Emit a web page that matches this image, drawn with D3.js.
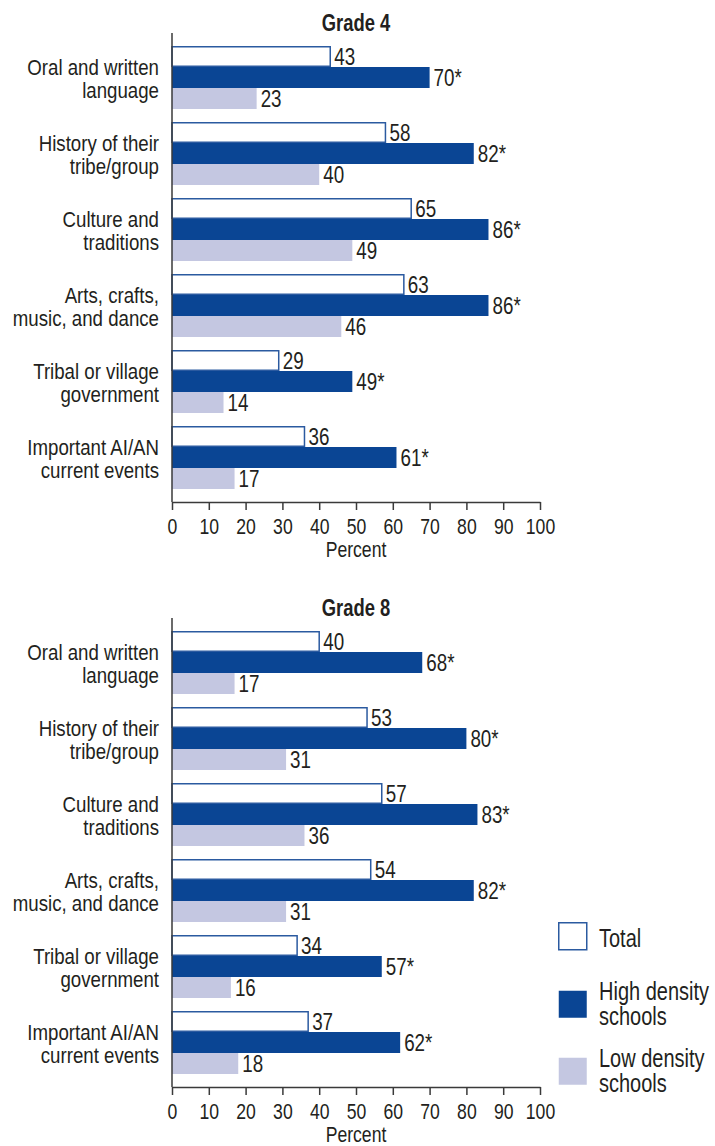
<!DOCTYPE html>
<html>
<head>
<meta charset="utf-8">
<script src="https://cdn.jsdelivr.net/npm/d3@7/dist/d3.min.js"></script>
<style>
  html, body { margin: 0; padding: 0; background: #fff; }
  svg { display: block; }
  text { font-family: "Liberation Sans", Arial, sans-serif; fill: #231f20; }
</style>
</head>
<body>
<svg id="chart" width="715" height="1146"></svg>
<script>
const categories = [
  ["Oral and written", "language"],
  ["History of their", "tribe/group"],
  ["Culture and", "traditions"],
  ["Arts, crafts,", "music, and dance"],
  ["Tribal or village", "government"],
  ["Important AI/AN", "current events"]
];
const seriesNames = ["Total", "High density schools", "Low density schools"];
const grade4Total = [43, 58, 65, 63, 29, 36];
const grade4High  = [70, 82, 86, 86, 49, 61];
const grade4Low   = [23, 40, 49, 46, 14, 17];
const grade8Total = [40, 53, 57, 54, 34, 37];
const grade8High  = [68, 80, 83, 82, 57, 62];
const grade8Low   = [17, 31, 36, 31, 16, 18];
const significant = [false, true, false]; // high density values flagged with *
const xTicks = [0, 10, 20, 30, 40, 50, 60, 70, 80, 90, 100];
const panelTitles = ["Grade 4", "Grade 8"];

const colors = {
  totalFill: "#ffffff", totalStroke: "#2b5aa0",
  high: "#0a4594", low: "#c4c7e1", axis: "#3a3a3a"
};
const SX = 0.8; // horizontal condensing of the font

const svg = d3.select("#chart");
const x = d3.scaleLinear().domain([0, 100]).range([172, 540]);

function place(sel, px, py, sx) {
  return sel.attr("transform", `translate(${px},${py}) scale(${sx || SX},1)`);
}

function drawPanel(offsetY, title, total, high, low) {
  const g = svg.append("g").attr("transform", `translate(0,${offsetY})`);
  const y = d3.scaleBand()
    .domain(d3.range(categories.length))
    .range([46, 489])
    .paddingInner(13 / 76)
    .paddingOuter(0);
  const bw = y.bandwidth();
  const sub = d3.scaleBand().domain([0, 1, 2]).range([0, bw]);

  const series = [total, high, low];

  // title
  place(g.append("text"), (x(0) + x(100)) / 2, 31)
    .attr("text-anchor", "middle")
    .attr("font-size", 23).attr("font-weight", "bold")
    .text(title);

  // bars
  series.forEach((vals, s) => {
    g.selectAll(null).data(vals).join("rect")
      .attr("x", x(0))
      .attr("y", (d, i) => y(i) + sub(s) + (s === 0 ? 0.75 : 0))
      .attr("width", d => x(d) - x(0))
      .attr("height", sub.bandwidth() - (s === 0 ? 1.5 : 0))
      .attr("fill", s === 0 ? colors.totalFill : (s === 1 ? colors.high : colors.low))
      .attr("stroke", s === 0 ? colors.totalStroke : "none")
      .attr("stroke-width", s === 0 ? 1.5 : 0);

    g.selectAll(null).data(vals).join("text")
      .attr("transform", (d, i) => `translate(${x(d) + 4},${y(i) + sub(s) + sub.bandwidth() / 2 + 8.5}) scale(${SX},1)`)
      .attr("font-size", 23.5)
      .text(d => d + (significant[s] ? "*" : ""));
  });

  // category labels
  categories.forEach((lines, i) => {
    const c = y(i) + bw / 2;
    const t = place(g.append("text"), 159, c - 3, 0.83).attr("text-anchor", "end").attr("font-size", 22.5);
    lines.forEach((ln, k) => {
      t.append("tspan").attr("x", 0).attr("y", k * 24).text(ln);
    });
  });

  // axes
  const axisY = 502;
  const axis = d3.axisBottom(x).tickValues(xTicks).tickSize(8).tickSizeOuter(0).tickPadding(8).tickFormat(d3.format("d"));
  const ax = g.append("g").attr("transform", `translate(0,${axisY})`).call(axis);
  ax.select(".domain").attr("stroke", colors.axis).attr("stroke-width", 1.5);
  ax.selectAll(".tick line").attr("stroke", colors.axis).attr("stroke-width", 1.5);
  ax.selectAll(".tick text").attr("font-size", 22).attr("fill", "#231f20")
    .attr("font-family", "'Liberation Sans', Arial, sans-serif")
    .attr("transform", `scale(${SX},1)`);

  g.append("line")
    .attr("x1", x(0)).attr("x2", x(0)).attr("y1", 33).attr("y2", axisY)
    .attr("stroke", colors.axis).attr("stroke-width", 1.5);

  place(g.append("text"), (x(0) + x(100)) / 2, 557)
    .attr("text-anchor", "middle").attr("font-size", 22)
    .text("Percent");
}

drawPanel(0, panelTitles[0], grade4Total, grade4High, grade4Low);
drawPanel(585, panelTitles[1], grade8Total, grade8High, grade8Low);

// legend
const legend = svg.append("g");
const legendItems = [
  { lines: ["Total"], fill: colors.totalFill, stroke: colors.totalStroke, y: 922, ty: 947 },
  { lines: ["High density", "schools"], fill: colors.high, stroke: "none", y: 990, ty: 1000 },
  { lines: ["Low density", "schools"], fill: colors.low, stroke: "none", y: 1057, ty: 1067 }
];
legendItems.forEach((it) => {
  legend.append("rect")
    .attr("x", 558.75).attr("y", it.y + 0.75)
    .attr("width", 28).attr("height", 27)
    .attr("fill", it.fill).attr("stroke", it.stroke).attr("stroke-width", 1.5);
  const t = place(legend.append("text"), 599, it.ty).attr("font-size", 25);
  it.lines.forEach((ln, k) => {
    t.append("tspan").attr("x", 0).attr("y", k * 25).text(ln);
  });
});
</script>
</body>
</html>
